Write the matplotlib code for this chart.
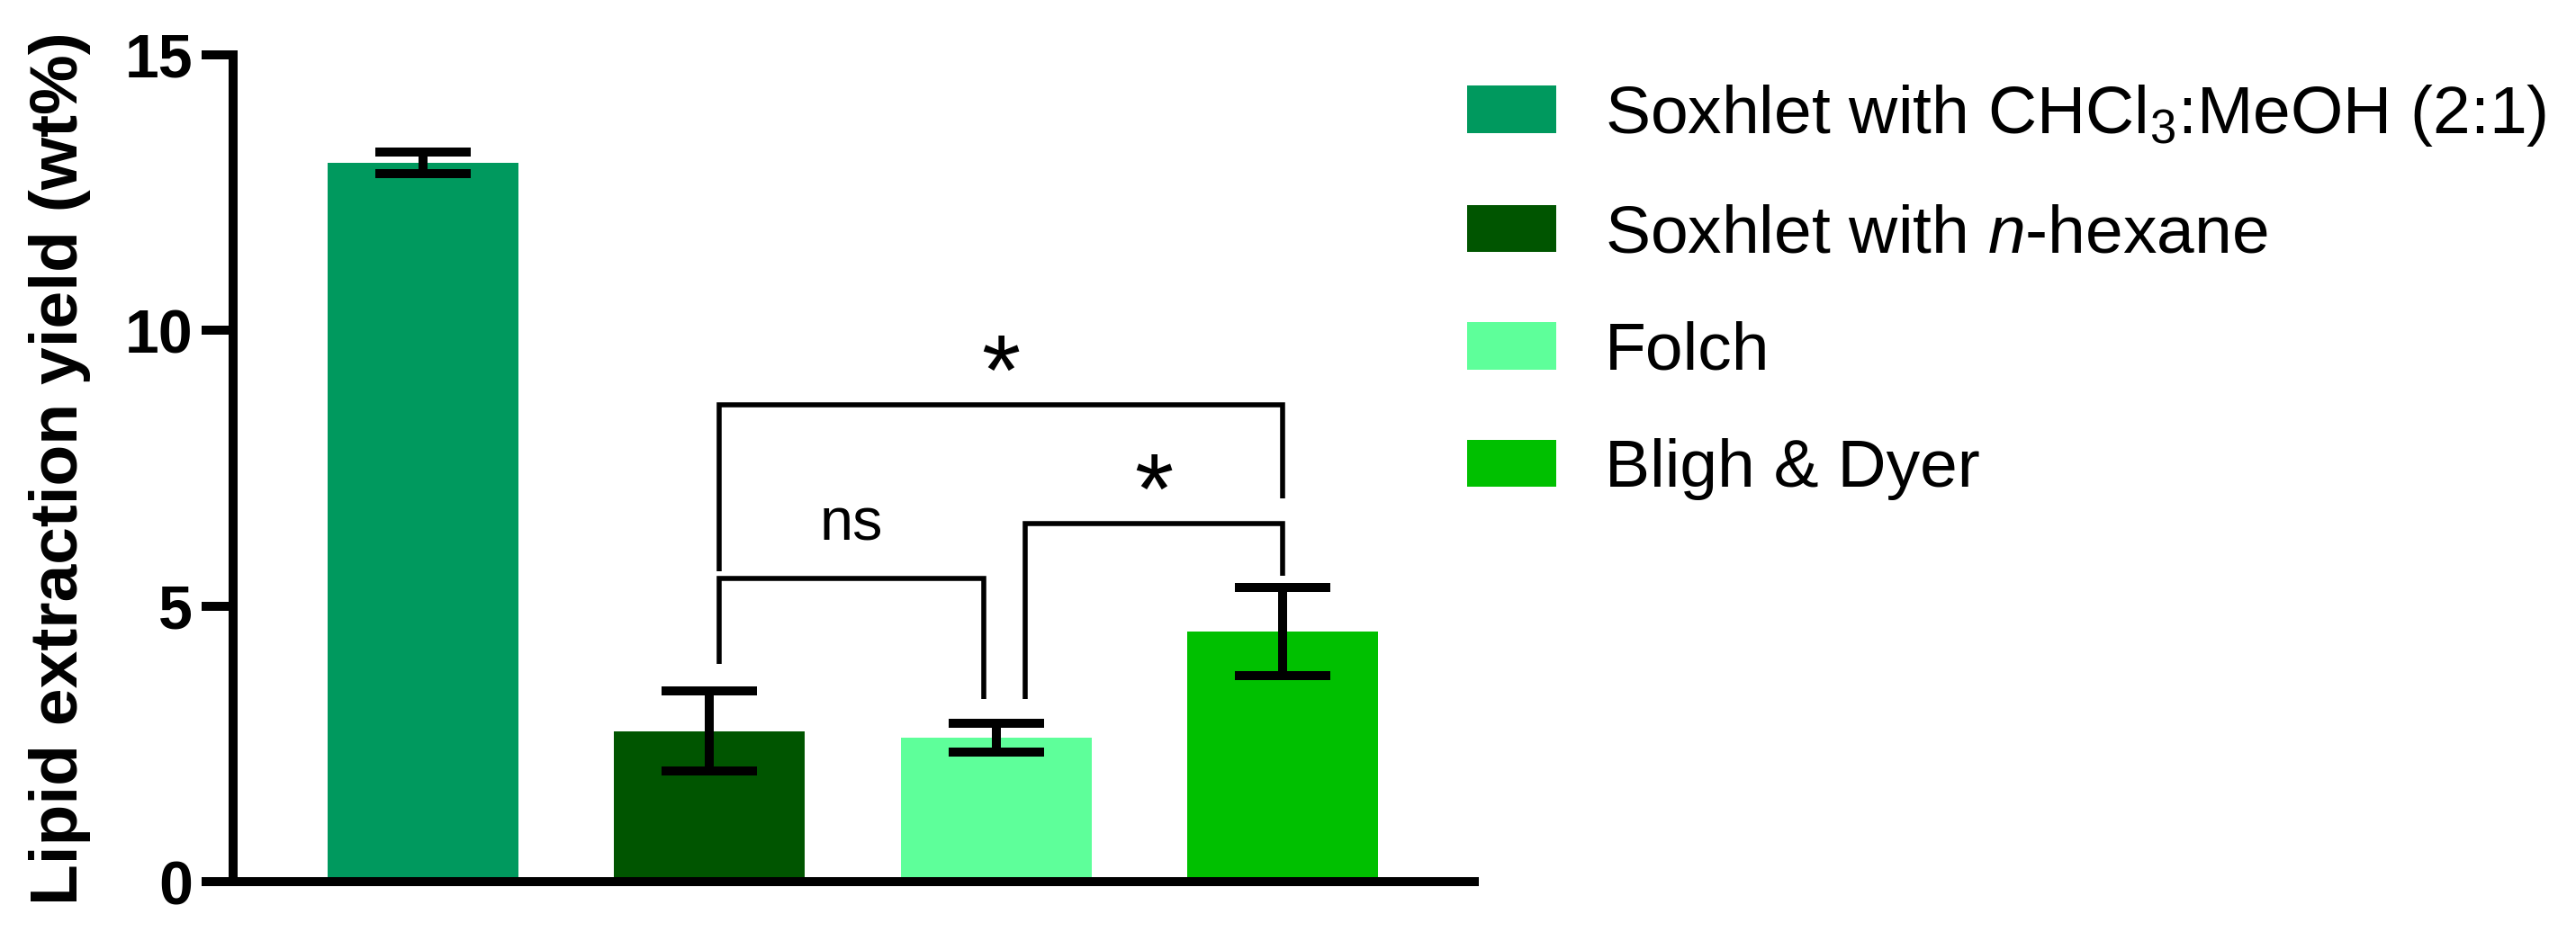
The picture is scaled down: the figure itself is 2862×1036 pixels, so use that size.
import matplotlib
matplotlib.use('Agg')
import matplotlib.pyplot as plt

plt.rcParams['font.family'] = ['Liberation Sans', 'DejaVu Sans']
plt.rcParams['mathtext.fontset'] = 'custom'
plt.rcParams['mathtext.rm'] = 'Liberation Sans'
plt.rcParams['mathtext.it'] = 'Liberation Sans:italic'
plt.rcParams['mathtext.bf'] = 'Liberation Sans:bold'

# ---------------- data ----------------
methods = ['Soxhlet with CHCl$_3$:MeOH (2:1)', 'Soxhlet with $n$-hexane',
           'Folch', 'Bligh & Dyer']
yield_mean = [13.04, 2.73, 2.61, 4.54]
yield_err = [0.20, 0.73, 0.26, 0.80]
colors = ['#00995E', '#005500', '#5EFF9A', '#00C000']
y_ticks = [0, 5, 10, 15]
y_label = 'Lipid extraction yield (wt%)'

# significance comparisons: (group a, group b, label)
comparisons = [(1, 2, 'ns'), (2, 3, '*'), (1, 3, '*')]
# bracket layout (annotation geometry)
bracket_level = [5.50, 6.50, 8.65]
bracket_leg_bottom = [(3.95, 3.31), (3.31, 5.55), (5.63, 6.95)]
bracket_dx = [(0.034, -0.043), (0.103, 0.0), (0.034, 0.0)]

# ---------------- figure ----------------
W, H = 2862, 1036
fig = plt.figure(figsize=(W / 100, H / 100), dpi=100)
ax = fig.add_axes([259 / W, 1 - 980 / H, (1638 - 259) / W, (980 - 61) / H])

x = list(range(len(methods)))
ax.bar(x, yield_mean, width=0.666, color=colors, edgecolor='none',
       label=methods, zorder=1)
ax.errorbar(x, yield_mean, yerr=yield_err, fmt='none', ecolor='black',
            elinewidth=7.2, capsize=38, capthick=7.2, zorder=3)

for (a, b, lab), lvl, (ya, yb), (dxa, dxb) in zip(comparisons, bracket_level,
                                                 bracket_leg_bottom, bracket_dx):
    xa, xb = a + dxa, b + dxb
    ax.plot([xa, xa, xb, xb], [ya, lvl, lvl, yb], color='black', lw=4.0,
            solid_joinstyle='miter', solid_capstyle='butt', zorder=4)
    if lab == 'ns':
        ax.text((xa + xb) / 2, lvl + 0.70, lab, ha='center', va='baseline',
                fontsize=48)
    else:
        ax.text((xa + xb) / 2, lvl, lab, ha='center', va='baseline',
                fontsize=80)

ax.set_xlim(-0.663, 3.669)
ax.set_ylim(0, 15)
ax.set_yticks(y_ticks)
ax.set_yticklabels([str(t) for t in y_ticks], fontsize=49, fontweight='bold')
ax.set_xticks([])
ax.tick_params(axis='y', direction='out', length=25.2, width=7.2, pad=7)
for s in ['top', 'right']:
    ax.spines[s].set_visible(False)
for s in ['left', 'bottom']:
    ax.spines[s].set_linewidth(7.2)
ax.set_ylabel(y_label, fontsize=54, fontweight='bold', labelpad=27)

leg = ax.legend(loc='center left', bbox_to_anchor=(1630 / W, 1 - 324 / H),
                bbox_transform=fig.transFigure, frameon=False, fontsize=54,
                handlelength=1.32, handleheight=0.70, handletextpad=0.72,
                labelspacing=0.82, borderpad=0, borderaxespad=0)

fig.savefig('out.png', dpi=100)
